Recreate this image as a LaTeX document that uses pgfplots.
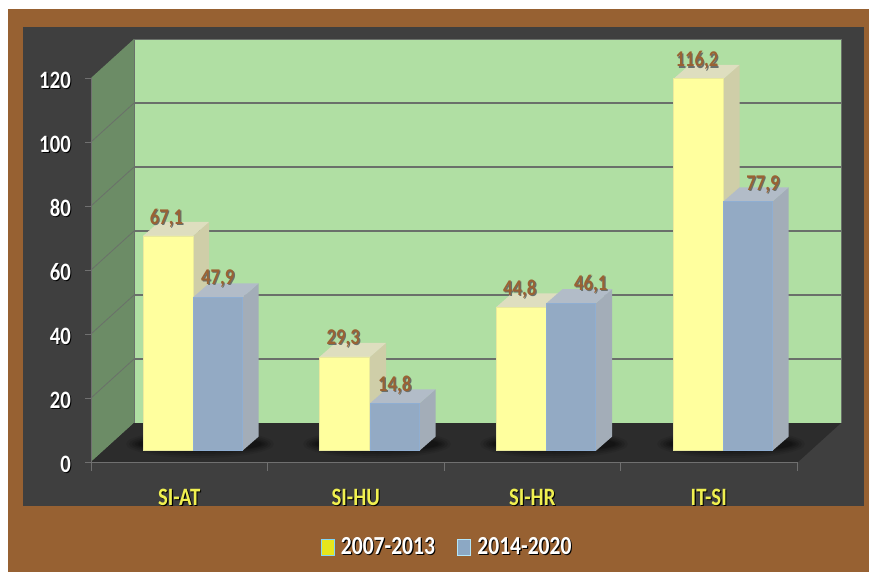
\documentclass[border=0pt]{standalone}
\usepackage{fontspec}
\usepackage{pgfplots}
\pgfplotsset{compat=1.18}
\newfontfamily\lab[FakeStretch=0.83]{Carlito}
\definecolor{brownbg}{HTML}{976132}
\definecolor{brownlab}{HTML}{9A6233}
\definecolor{panel}{HTML}{3F3F3F}
\definecolor{floorc}{HTML}{2C2C2C}
\definecolor{wall}{HTML}{B0DFA3}
\definecolor{lwall}{HTML}{6C8C66}
\definecolor{gridc}{HTML}{6A706A}
\definecolor{axc}{HTML}{707070}
\definecolor{yfront}{HTML}{FFFF9E}
\definecolor{yedge}{HTML}{EAEA9C}
\definecolor{yside}{HTML}{CFCEA8}
\definecolor{ytop}{HTML}{DEDEBF}
\definecolor{bfront}{HTML}{93AAC4}
\definecolor{bedge}{HTML}{8FAED2}
\definecolor{bside}{HTML}{A3ADB8}
\definecolor{btop}{HTML}{B2BCC8}
\definecolor{legy}{HTML}{E6E61C}
\definecolor{legb}{HTML}{8CA8C4}
\definecolor{yl}{HTML}{F0F050}
\newcommand{\st}[3]{\leavevmode\rlap{\kern1.1pt\raisebox{-1.1pt}{\textcolor{#2}{#3}}}\textcolor{#1}{#3}}
\begin{document}
\begin{tikzpicture}
% ---------- background, in pixels
\begin{axis}[at={(0pt,0pt)},anchor=south west,scale only axis,width=869pt,height=572pt,
  xmin=0,xmax=869,ymin=0,ymax=572,y dir=reverse,hide axis,clip=false]
\fill[white] (0,0) rectangle (869,572);
\fill[brownbg] (8,9) rectangle (869,572);
\fill[panel] (23,27) rectangle (864,506);
\fill[wall] (134,39) rectangle (841,423);
\fill[lwall] (91,78) -- (134,39) -- (134,423) -- (91,462) -- cycle;
\fill[floorc] (91,462) -- (134,423) -- (841,423) -- (798,462) -- cycle;
\begin{scope}
\clip (91,462) -- (134,423) -- (841,423) -- (798,462) -- cycle;
\pgfplotsinvokeforeach{200,377,554,731}{
  \fill[black,opacity=.08] (#1,444) ellipse [x radius=74,y radius=14];
  \fill[black,opacity=.10] (#1,444) ellipse [x radius=71,y radius=12];
  \fill[black,opacity=.12] (#1,444) ellipse [x radius=68,y radius=10];
  \fill[black,opacity=.14] (#1,444) ellipse [x radius=65,y radius=8];
  \fill[black,opacity=.16] (#1,444) ellipse [x radius=62,y radius=7];
}
\end{scope}
\pgfplotsinvokeforeach{103,167,231,295,359}{
  \draw[gridc,line width=1.2pt] (134,#1) -- (841,#1);
}
\draw[gridc,line width=.8pt] (91,142) -- (134,103);
\draw[gridc,line width=.8pt] (91,206) -- (134,167);
\draw[gridc,line width=.8pt] (91,270) -- (134,231);
\draw[gridc,line width=.8pt] (91,334) -- (134,295);
\draw[gridc,line width=.8pt] (91,398) -- (134,359);
\draw[gridc,line width=.8pt] (134,39) -- (841,39) -- (841,423);
\draw[gridc,line width=.8pt] (134,39) -- (134,423);
\end{axis}
% ---------- value axis (front plane)
\begin{axis}[at={(91pt,110pt)},anchor=south west,scale only axis,width=706pt,height=384pt,
  xmin=0,xmax=4,ymin=0,ymax=120,
  axis x line*=bottom,axis y line*=left,
  axis line style={axc,line width=.9pt,-},
  tick align=outside,
  ytick={0,20,40,60,80,100,120},
  yticklabels={\st{white}{black}{0},\st{white}{black}{20},\st{white}{black}{40},\st{white}{black}{60},\st{white}{black}{80},\st{white}{black}{100},\st{white}{black}{120}},
  xtick={0.5,1.5,2.5,3.5},
  xticklabels={\st{yl}{black}{SI-AT},\st{yl}{black}{SI-HU},\st{yl}{black}{SI-HR},\st{yl}{black}{IT-SI}},
  minor xtick={0,1,2,3,4},
  major tick length=6pt,minor tick length=9pt,
  major x tick style={draw=none},
  minor x tick style={axc,line width=.8pt},
  major y tick style={axc,line width=.8pt},
  tick label style={font=\fontsize{25}{25}\selectfont\bfseries\lab},
  yticklabel style={anchor=east,inner sep=0pt,xshift=-14pt,yshift=-2.5pt},
  xticklabel style={anchor=center,inner sep=0pt,yshift=-30pt},
]
\end{axis}
% ---------- bars: x in pixels, y in chart values (y=0 at the bars' base)
\begin{axis}[at={(0pt,0pt)},anchor=south west,scale only axis,width=869pt,height=572pt,
  xmin=0,xmax=869,ymin=-37.906,ymax=140.844,hide axis,clip=false,
  /pgf/number format/.cd,use comma,fixed,fixed zerofill,precision=1,1000 sep={},
  /pgfplots/.cd,
  legend style={at={(axis cs:447,-30.1)},anchor=center,draw=none,fill=none,legend columns=2,
    font=\fontsize{26}{26}\selectfont\bfseries\lab,
    /tikz/every odd column/.style={column sep=5pt},
    /tikz/every even column/.style={column sep=20pt},inner sep=0pt},
  legend cell align=left,
  lbar/.style={ybar,bar width=49,bar shift=0pt,forget plot},
  lab3/.style 2 args={
    nodes near coords={\st{brownlab}{gridc}{\pgfmathprintnumber[assume math mode=true]{\pgfplotspointmeta}}},
    every node near coord/.append style={anchor=center,inner sep=0pt,xshift=#1pt,yshift=#2pt,
      font=\fontsize{22.5}{22.5}\selectfont\bfseries\lab},
  },
  legend image code/.code={\fill[#1] (0pt,-8pt) rectangle (13pt,8pt);\draw[#1,fill=none] (0pt,-8pt) rectangle (13pt,8pt);},
]
\addlegendimage{draw=cyan!50!white,fill=legy}
\addlegendentry{\st{white}{black}{2007-2013}}
\addlegendimage{draw=cyan!30!white,fill=legb}
\addlegendentry{\st{white}{black}{2014-2020}}
% yellow side and top faces
\addplot[fill=yside,draw=none,forget plot] coordinates {(193,0)(209,4.375)(209,71.475)(193,67.1)} -- cycle;
\addplot[fill=ytop,draw=none,forget plot] coordinates {(143,67.1)(193,67.1)(209,71.475)(159,71.475)} -- cycle;
\addplot[fill=yside,draw=none,forget plot] coordinates {(370,0)(386,4.375)(386,33.675)(370,29.3)} -- cycle;
\addplot[fill=ytop,draw=none,forget plot] coordinates {(319.5,29.3)(370,29.3)(386,33.675)(335.5,33.675)} -- cycle;
\addplot[fill=yside,draw=none,forget plot] coordinates {(546.5,0)(562.5,4.375)(562.5,49.175)(546.5,44.8)} -- cycle;
\addplot[fill=ytop,draw=none,forget plot] coordinates {(496,44.8)(546.5,44.8)(562.5,49.175)(512,49.175)} -- cycle;
\addplot[fill=yside,draw=none,forget plot] coordinates {(723.5,0)(739.5,4.375)(739.5,120.575)(723.5,116.2)} -- cycle;
\addplot[fill=ytop,draw=none,forget plot] coordinates {(673.5,116.2)(723.5,116.2)(739.5,120.575)(689.5,120.575)} -- cycle;
% yellow fronts
\addplot[lbar,bar width=50,fill=yfront,draw=yedge,line width=.8pt,lab3={-1.5}{17.5}] coordinates {(168,67.1)(344.75,29.3)(521.25,44.8)(698.5,116.2)};
% blue side and top faces
\addplot[fill=bside,draw=none,forget plot] coordinates {(242.5,0)(258.5,4.375)(258.5,52.275)(242.5,47.9)} -- cycle;
\addplot[fill=btop,draw=none,forget plot] coordinates {(193,47.9)(242.5,47.9)(258.5,52.275)(209,52.275)} -- cycle;
\addplot[fill=bside,draw=none,forget plot] coordinates {(419.5,0)(435.5,4.375)(435.5,19.175)(419.5,14.8)} -- cycle;
\addplot[fill=btop,draw=none,forget plot] coordinates {(370,14.8)(419.5,14.8)(435.5,19.175)(386,19.175)} -- cycle;
\addplot[fill=bside,draw=none,forget plot] coordinates {(596,0)(612,4.375)(612,50.475)(596,46.1)} -- cycle;
\addplot[fill=btop,draw=none,forget plot] coordinates {(546.5,46.1)(596,46.1)(612,50.475)(562.5,50.475)} -- cycle;
\addplot[fill=bside,draw=none,forget plot] coordinates {(772.5,0)(788.5,4.375)(788.5,82.275)(772.5,77.9)} -- cycle;
\addplot[fill=btop,draw=none,forget plot] coordinates {(723.5,77.9)(772.5,77.9)(788.5,82.275)(739.5,82.275)} -- cycle;
% blue fronts
\addplot[lbar,fill=bfront,draw=bedge,line width=.8pt,lab3={0}{18}] coordinates {(217.75,47.9)(394.75,14.8)};
\addplot[lbar,fill=bfront,draw=bedge,line width=.8pt,lab3={19.5}{18.5}] coordinates {(571.25,46.1)};
\addplot[lbar,fill=bfront,draw=bedge,line width=.8pt,lab3={15}{16}] coordinates {(748,77.9)};
\end{axis}
\end{tikzpicture}
\end{document}
